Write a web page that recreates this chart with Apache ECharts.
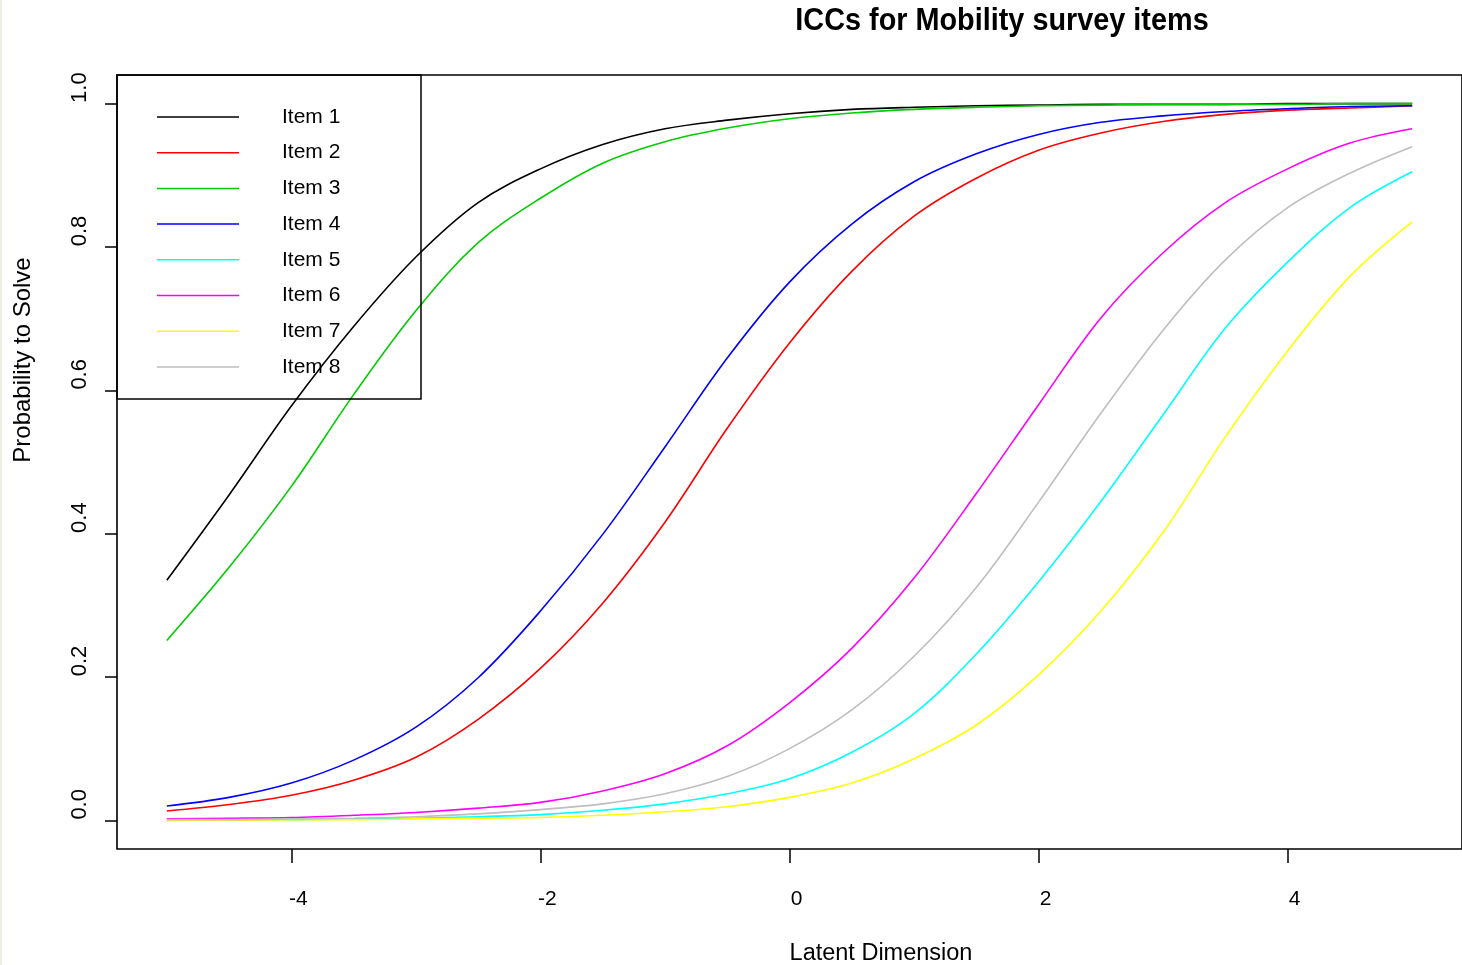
<!DOCTYPE html>
<html>
<head>
<meta charset="utf-8">
<script src="https://cdn.jsdelivr.net/npm/echarts@6/dist/echarts.min.js"></script>
<style>
html,body{margin:0;padding:0;background:#fff;}
#chart{width:1462px;height:965px;}
</style>
</head>
<body>
<div id="chart"></div>
<script>
// Latent dimension (theta) values
const theta = [-5,-4.5,-4,-3.5,-3,-2.5,-2,-1.5,-1,-0.5,0,0.5,1,1.5,2,2.5,3,3.5,4,4.5,5];
// Probability to solve
const item1 = [0.335,0.454,0.578,0.689,0.786,0.862,0.909,0.943,0.965,0.977,0.986,0.992,0.995,0.997,0.998,0.999,0.999,0.999,1.0,1.0,1.0];
const item2 = [0.013,0.022,0.035,0.056,0.088,0.141,0.212,0.303,0.416,0.547,0.666,0.766,0.843,0.896,0.935,0.959,0.975,0.985,0.991,0.994,0.997];
const item3 = [0.251,0.353,0.466,0.594,0.711,0.806,0.868,0.917,0.947,0.966,0.979,0.987,0.992,0.995,0.997,0.998,0.999,0.999,0.999,1.0,1.0];
const item4 = [0.020,0.032,0.052,0.084,0.130,0.199,0.292,0.399,0.521,0.645,0.751,0.832,0.891,0.930,0.957,0.974,0.983,0.989,0.993,0.996,0.997];
const item5 = [0.000,0.001,0.001,0.002,0.003,0.005,0.008,0.014,0.023,0.037,0.058,0.095,0.149,0.232,0.333,0.445,0.566,0.687,0.779,0.855,0.905];
const item6 = [0.002,0.003,0.004,0.007,0.011,0.017,0.025,0.041,0.065,0.104,0.164,0.240,0.338,0.456,0.580,0.701,0.792,0.862,0.909,0.945,0.965];
const item7 = [0.000,0.000,0.001,0.001,0.002,0.003,0.004,0.007,0.012,0.019,0.032,0.052,0.086,0.133,0.203,0.292,0.402,0.535,0.655,0.759,0.835];
const item8 = [0.001,0.001,0.002,0.003,0.005,0.009,0.015,0.023,0.037,0.061,0.100,0.154,0.229,0.325,0.444,0.568,0.684,0.782,0.855,0.903,0.940];

const itemNames = ['Item 1','Item 2','Item 3','Item 4','Item 5','Item 6','Item 7','Item 8'];
const itemValues = [item1,item2,item3,item4,item5,item6,item7,item8];
const itemColors = ['#000000','#ff0000','#00cd00','#0000ff','#00ffff','#ff00ff','#ffff00','#bebebe'];
const xTicks = [-4,-2,0,2,4];
const yTicks = [0,0.2,0.4,0.6,0.8,1.0];

const FONT = "'Liberation Sans', Arial, sans-serif";

const chart = echarts.init(document.getElementById('chart'), null, {renderer:'canvas'});

const series = itemNames.map((name, k) => ({
  name: name,
  type: 'line',
  data: theta.map((t, i) => [t, itemValues[k][i]]),
  showSymbol: false,
  smooth: 0.35,
  lineStyle: {color: itemColors[k], width: 1.6},
  itemStyle: {color: itemColors[k]},
  emphasis: {disabled: true},
  z: 2 + k
}));

chart.setOption({
  animation: false,
  backgroundColor: '#ffffff',
  grid: {
    left: 117, top: 75, width: 1347, height: 774,
    show: true, borderColor: '#000', borderWidth: 1.6, backgroundColor: 'transparent',
    containLabel: false
  },
  xAxis: {
    type: 'value', min: -5.4, max: 5.4,
    axisLine: {show: false, onZero: false},
    splitLine: {show: false},
    axisTick: {show: true, length: 14, customValues: xTicks, lineStyle: {color: '#000', width: 1.5}},
    axisLabel: {show: true, customValues: xTicks, margin: 40, fontFamily: FONT, fontSize: 21, color: '#000',
      padding: [0,0,0,14]}
  },
  yAxis: {
    type: 'value', min: -0.04, max: 1.04,
    axisLine: {show: false, onZero: false},
    splitLine: {show: false},
    axisTick: {show: true, length: 12, customValues: yTicks, lineStyle: {color: '#000', width: 1.5}},
    axisLabel: {show: true, customValues: yTicks, rotate: 90, margin: 26, fontFamily: FONT, fontSize: 22, color: '#000',
      padding: [0,0,0,32],
      formatter: v => v.toFixed(1)}
  },
  legend: {
    orient: 'vertical', left: 152, top: 101,
    icon: 'rect', itemWidth: 82, itemHeight: 1.5, itemGap: 13.7,
    selectedMode: false,
    data: itemNames,
    textStyle: {fontFamily: FONT, fontSize: 21, color: '#000', lineHeight: 22, padding: [0,0,0,38]}
  },
  graphic: [
    {type: 'rect', shape: {x: 117, y: 75, width: 304, height: 324}, style: {fill: 'none', stroke: '#000', lineWidth: 1.5}, z: 100},
    {type: 'rect', shape: {x: 0, y: 0, width: 2, height: 965}, style: {fill: '#efeee0'}, z: 100},
    {type: 'text', x: 1002, y: 21, scaleX: 0.93, style: {text: 'ICCs for Mobility survey items', fontFamily: FONT, fontSize: 31, fontWeight: 'bold', fill: '#000', align: 'center', verticalAlign: 'middle'}},
    {type: 'text', x: 881, y: 954, style: {text: 'Latent Dimension', fontFamily: FONT, fontSize: 23.5, fill: '#000', align: 'center', verticalAlign: 'middle'}},
    {type: 'text', x: 23, y: 360, rotation: Math.PI / 2, style: {text: 'Probability to Solve', fontFamily: FONT, fontSize: 24, fill: '#000', align: 'center', verticalAlign: 'middle'}}
  ],
  series: series
});
</script>
</body>
</html>
